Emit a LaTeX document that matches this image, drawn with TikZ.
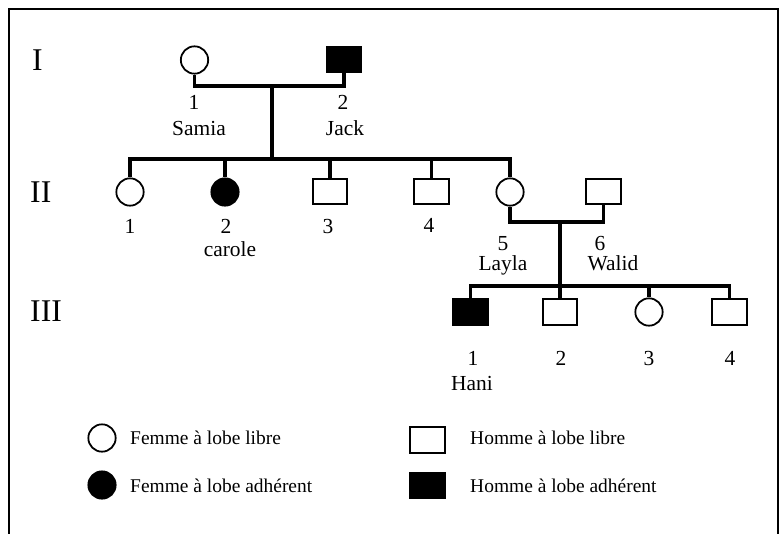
\documentclass[tikz,border=0pt]{standalone}
\usepackage{fontspec}
\setmainfont{Liberation Serif}
\usepackage{tikz}
\usetikzlibrary{positioning}

\begin{document}
\begin{tikzpicture}[
  x=0.03cm, y=-0.03cm,
  female/.style={circle,draw,line width=1.5pt,minimum size=8.2mm,inner sep=0pt},
  male/.style={rectangle,draw,line width=1.5pt,minimum width=10.3mm,
    minimum height=7.7mm,inner sep=0pt},
  aff/.style={fill=black},
  tag/.style={font=\fontsize{18.3}{21}\selectfont,anchor=base,inner sep=0pt},
  gen/.style={font=\fontsize{27}{30}\selectfont,anchor=base west,inner sep=0pt},
  key/.style={font=\fontsize{16.6}{19}\selectfont,anchor=base west,inner sep=0pt},
  link/.style={line width=2.8pt}]
\useasboundingbox (0,0) rectangle (784,534);
\draw[line width=1.8pt] (9,545) -- (9,9) -- (778,9) -- (778,545);
% generations
\node[gen] (g1) at (32,71) {I};
\node[gen] (g2) at (30,202) {II};
\node[gen] (g3) at (30,321) {III};
% generation I
\node[female] (i1) at (194.5,60) {};
\node[male,aff] (i2) at (344,59.5) {};
\coordinate (m1) at (272,86);
\coordinate (s1) at (272,159);
\draw[link] (i1) |- (m1) -| (i2);
\draw[link] (m1) -- (s1);
\node[tag] (i1n) at (194,110) {1};
\node[tag] (i1t) at (199,135) {Samia};
\node[tag] (i2n) at (343,110) {2};
\node[tag] (i2t) at (345,135) {Jack};
% generation II
\node[female] (ii1) at (130,192) {};
\node[female,aff] (ii2) at (225,192) {};
\node[male] (ii3) at (330,191.5) {};
\node[male] (ii4) at (431.5,191.5) {};
\node[female] (ii5) at (510,192) {};
\node[male] (ii6) at (603.5,191.5) {};
\draw[link] (ii1) |- (s1) -| (ii5);
\foreach \n in {ii2,ii3,ii4}
  \draw[link] (\n) -- (\n |- s1);
\node[tag] (ii1n) at (130,233) {1};
\node[tag] (ii2n) at (226,233) {2};
\node[tag] (ii2t) at (230,256) {carole};
\node[tag] (ii3n) at (328,233) {3};
\node[tag] (ii4n) at (429,232) {4};
\node[tag] (ii5n) at (503,250) {5};
\node[tag] (ii5t) at (503,270) {Layla};
\node[tag] (ii6n) at (600,250) {6};
\node[tag] (ii6t) at (613,270) {Walid};
\coordinate (m2) at (560,222);
\coordinate (s2) at (560,286);
\draw[link] (ii5) |- (m2) -| (ii6);
\draw[link] (m2) -- (s2);
% generation III
\node[male,aff] (iii1) at (470.5,312) {};
\node[male] (iii2) at (560,312) {};
\node[female] (iii3) at (649,312) {};
\node[male] (iii4) at (729.5,312) {};
\draw[link] (iii1) |- (s2) -| (iii4);
\foreach \n in {iii2,iii3}
  \draw[link] (\n) -- (\n |- s2);
\node[tag] (iii1n) at (473,365) {1};
\node[tag] (iii1t) at (472,390) {Hani};
\node[tag] (iii2n) at (561,365) {2};
\node[tag] (iii3n) at (649,365) {3};
\node[tag] (iii4n) at (730,365) {4};
% legend
\node[female] (kf1) at (102,438) {};
\node[female,aff] (kf2) at (102,485) {};
\node[male] (km1) at (427.5,440) {};
\node[male,aff] (km2) at (427.5,485.5) {};
\node[key] (kf1t) at (130,444) {Femme à lobe libre};
\node[key] (kf2t) at (130,492) {Femme à lobe adhérent};
\node[key] (km1t) at (470,444) {Homme à lobe libre};
\node[key] (km2t) at (470,492) {Homme à lobe adhérent};
\end{tikzpicture}
\end{document}
